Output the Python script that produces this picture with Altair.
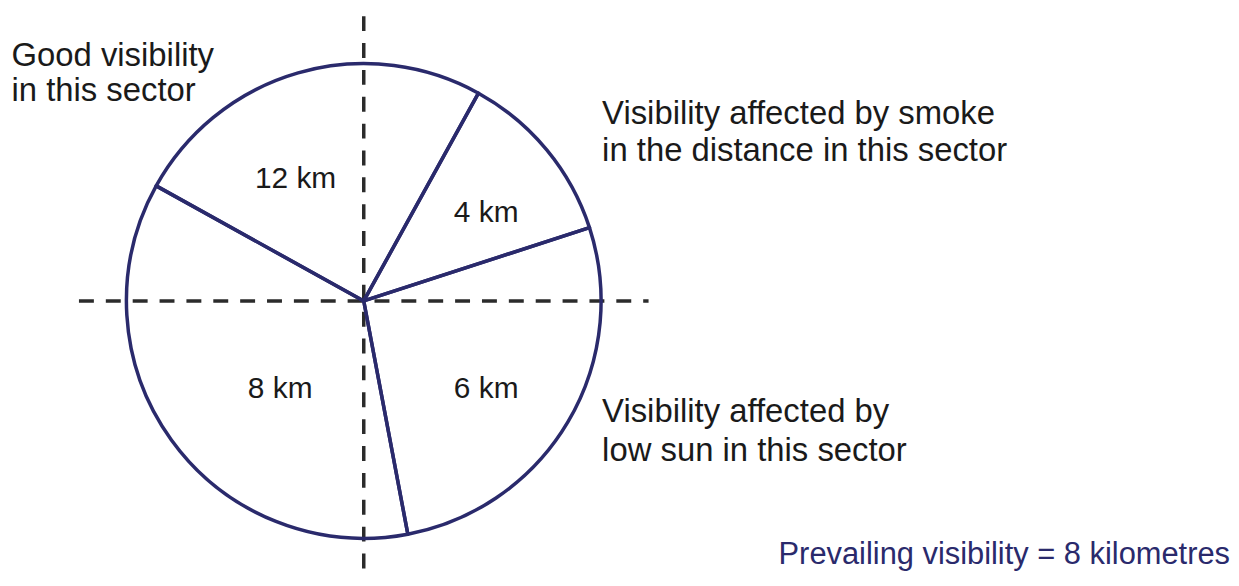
import altair as alt
import pandas as pd

# ---- data -------------------------------------------------------------
sector_labels = ["4 km", "6 km", "8 km", "12 km"]
sector_start_deg = [28.9, 72.0, 169.3, 299.0]   # bearing, clockwise from north
sector_end_deg = [72.0, 169.3, 299.0, 388.9]

note_lines = [
    "Good visibility",
    "in this sector",
    "Visibility affected by smoke",
    "in the distance in this sector",
    "Visibility affected by",
    "low sun in this sector",
]
summary_text = "Prevailing visibility = 8 kilometres"

# ---- layout (pixels relative to the circle centre) -------------------
W, H = 1229, 568
CX, CY = 357.5, 293.0
R = 238.5
CROSS = 1.2 * R

km_pos_x = [123, 123, -84, -68.5]
km_pos_y = [79, -98, -98, 114]
note_pos_x = [-354, -354, 239.5, 239.5, 239.5, 239.5]
note_pos_y = [236, 201, 178, 141, -122, -161]
summary_pos = (870.5, -264)

NAVY = "#2a2a6c"
INK = "#1a1a1a"
DASH = "#2b2b2b"
FONT = "Liberation Sans"

xs = alt.Scale(domain=[-CX, W - CX], nice=False, zero=False)
ys = alt.Scale(domain=[-(H - CY), CY], nice=False, zero=False)

sectors = pd.DataFrame({
    "label": sector_labels,
    "start": sector_start_deg,
    "end": sector_end_deg,
})
km = pd.DataFrame({"label": sector_labels, "x": km_pos_x, "y": km_pos_y})
notes = pd.DataFrame({"text": note_lines, "x": note_pos_x, "y": note_pos_y})
summary = pd.DataFrame({"text": [summary_text], "x": [summary_pos[0]], "y": [summary_pos[1]]})
cross = pd.DataFrame({
    "x": [-CROSS, 0], "x2": [CROSS, 0],
    "y": [0, CROSS], "y2": [0, -CROSS],
})

rules = alt.Chart(cross).mark_rule(
    color=DASH, strokeWidth=3.5, strokeDash=[15, 12]
).encode(
    x=alt.X("x:Q", scale=xs, axis=None), x2="x2:Q",
    y=alt.Y("y:Q", scale=ys, axis=None), y2="y2:Q",
)

arcs = alt.Chart(sectors).transform_calculate(
    t0="datum.start * PI / 180",
    t1="datum.end * PI / 180",
    cx="0",
    cy="0",
).mark_arc(
    radius=R, fill="transparent", stroke=NAVY, strokeWidth=3.5, strokeJoin="round"
).encode(
    x=alt.X("cx:Q", scale=xs, axis=None),
    y=alt.Y("cy:Q", scale=ys, axis=None),
    theta=alt.Theta("t0:Q", scale=None),
    theta2=alt.Theta2("t1:Q"),
)

km_text = alt.Chart(km).mark_text(
    font=FONT, fontSize=30, color=INK, align="center", baseline="alphabetic"
).encode(
    x=alt.X("x:Q", scale=xs, axis=None),
    y=alt.Y("y:Q", scale=ys, axis=None),
    text="label:N",
)

note_text = alt.Chart(notes).mark_text(
    font=FONT, fontSize=33, color=INK, align="left", baseline="alphabetic"
).encode(
    x=alt.X("x:Q", scale=xs, axis=None),
    y=alt.Y("y:Q", scale=ys, axis=None),
    text="text:N",
)

summary_txt = alt.Chart(summary).mark_text(
    font=FONT, fontSize=31, color=NAVY, align="right", baseline="alphabetic"
).encode(
    x=alt.X("x:Q", scale=xs, axis=None),
    y=alt.Y("y:Q", scale=ys, axis=None),
    text="text:N",
)

chart = alt.layer(rules, arcs, km_text, note_text, summary_txt).properties(
    width=W, height=H, padding=0,
    autosize=alt.AutoSizeParams(type="none"),
    background="white",
).configure_view(strokeWidth=0)

chart.save("out.html", embed_options={"renderer": "svg", "actions": False})
